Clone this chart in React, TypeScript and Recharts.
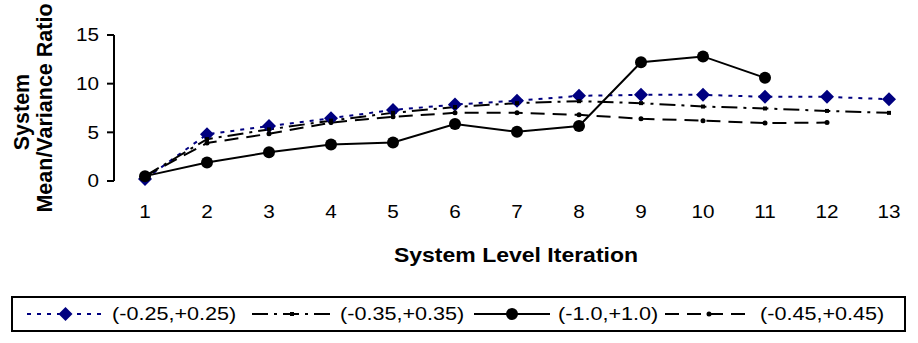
import React from "react";
import { LineChart, Line, XAxis, YAxis } from "recharts";

// iterations and series values
const iterations = [1, 2, 3, 4, 5, 6, 7, 8, 9, 10, 11, 12, 13];
const s025 = [0.2, 4.8, 5.65, 6.45, 7.3, 7.85, 8.25, 8.75, 8.85, 8.85, 8.65, 8.65, 8.4];
const s035 = [0.5, 4.3, 5.3, 6.2, 7.0, 7.6, 8.0, 8.2, 8.0, 7.65, 7.45, 7.2, 7.0];
const s100 = [0.5, 1.9, 2.95, 3.75, 3.95, 5.85, 5.05, 5.65, 12.2, 12.8, 10.6];
const s045 = [0.5, 3.9, 4.85, 6.0, 6.6, 7.0, 7.0, 6.8, 6.4, 6.2, 5.95, 6.0];
const yTicks = [0, 5, 10, 15];
const edgeTicks = [0.5, 1.5, 2.5, 3.5, 4.5, 5.5, 6.5, 7.5, 8.5, 9.5, 10.5, 11.5, 12.5, 13.5];

const data = iterations.map((it, i) => ({
  it,
  a: s025[i] ?? null,
  b: s035[i] ?? null,
  c: s100[i] ?? null,
  d: s045[i] ?? null,
}));

const FONT = "'Liberation Sans', Arial, sans-serif";
const NAVY = "#000080";

const SERIES = [
  { key: "a", name: "(-0.25,+0.25)", color: NAVY, dash: "4 6", marker: "diamond" },
  { key: "b", name: "(-0.35,+0.35)", color: "#000", dash: "16 6 3 6", marker: "square" },
  { key: "c", name: "(-1.0,+1.0)", color: "#000", dash: undefined, marker: "circle" },
  { key: "d", name: "(-0.45,+0.45)", color: "#000", dash: "14 8", marker: "dot" },
];

function Marker({ kind, cx, cy, color }: { kind: string; cx: number; cy: number; color: string }) {
  if (kind === "diamond")
    return <path d={`M${cx},${cy - 7}L${cx + 7},${cy}L${cx},${cy + 7}L${cx - 7},${cy}Z`} fill={color} />;
  if (kind === "square") return <rect x={cx - 2} y={cy - 2} width={4} height={4} fill={color} />;
  if (kind === "circle") return <circle cx={cx} cy={cy} r={6} fill={color} />;
  return <circle cx={cx} cy={cy} r={2.5} fill={color} />;
}

const XTick = ({ x, y, payload }: any) => (
  <g transform={`translate(${x},${y})`}>
    <text transform="scale(1.15,1)" textAnchor="middle" dy="0.71em" fontSize={18} fontFamily={FONT} fill="#000">
      {payload.value}
    </text>
  </g>
);

const YTick = ({ x, y, payload }: any) => (
  <g transform={`translate(${x},${y})`}>
    <text transform="scale(1.15,1)" textAnchor="end" dy="0.355em" fontSize={18} fontFamily={FONT} fill="#000">
      {payload.value}
    </text>
  </g>
);

function Legend() {
  const items = [
    { line: [27, 104], text: 112 },
    { line: [252, 332], text: 340 },
    { line: [474, 550], text: 558 },
    { line: [665, 753], text: 760 },
  ];
  const cy = 24;
  return (
    <svg width={918} height={50} style={{ position: "absolute", left: 0, top: 290 }}>
      <rect x={12} y={7} width={893} height={34} fill="#fff" stroke="#000" strokeWidth={2} />
      {SERIES.map((s, i) => {
        const it = items[i];
        const mid = (it.line[0] + it.line[1]) / 2;
        return (
          <g key={s.key}>
            <line x1={it.line[0]} x2={it.line[1]} y1={cy} y2={cy} stroke={s.color} strokeWidth={2} strokeDasharray={s.dash} />
            <Marker kind={s.marker} cx={mid} cy={cy} color={s.color} />
            <g transform={`translate(${it.text},${cy})`}>
              <text transform="scale(1.2,1)" dy="0.355em" fontSize={18} fontFamily={FONT} fill="#000">
                {s.name}
              </text>
            </g>
          </g>
        );
      })}
    </svg>
  );
}

export default function App() {
  return (
    <div style={{ position: "absolute", left: 0, top: 0, width: 918, height: 343, overflow: "hidden", background: "#fff" }}>
      <LineChart width={920} height={343} data={data} margin={{ top: 35, right: 0, left: 0, bottom: 122 }}>
        <XAxis
          xAxisId="edges"
          dataKey="it"
          type="number"
          domain={[0.5, 13.5]}
          ticks={edgeTicks}
          allowDataOverflow
          height={0}
          tick={false}
          tickSize={6}
          axisLine={{ stroke: "#000", strokeWidth: 2 }}
          tickLine={{ stroke: "#000", strokeWidth: 2 }}
        />
        <XAxis
          dataKey="it"
          type="number"
          domain={[0.5, 13.5]}
          ticks={iterations}
          allowDataOverflow
          height={40}
          axisLine={false}
          tickLine={false}
          tickSize={6}
          tickMargin={18}
          tick={<XTick />}
          label={{
            content: () => (
              <g transform="translate(516,262)">
                <text transform="scale(1.15,1)" textAnchor="middle" fontSize={20} fontWeight="bold" fontFamily={FONT} fill="#000">
                  System Level Iteration
                </text>
              </g>
            ),
          }}
        />
        <YAxis
          width={114}
          domain={[0, 15]}
          ticks={yTicks}
          interval={0}
          tickSize={7}
          tickMargin={8}
          tick={<YTick />}
          axisLine={{ stroke: "#000", strokeWidth: 2 }}
          tickLine={{ stroke: "#000", strokeWidth: 2 }}
          label={{
            content: () => (
              <g fontSize={21.5} fontWeight="bold" fontFamily={FONT} fill="#000">
                <text transform="translate(29,112) rotate(-90)" textAnchor="middle">System</text>
                <text transform="translate(52,108) rotate(-90)" textAnchor="middle">Mean/Variance Ratio</text>
              </g>
            ),
          }}
        />
        {SERIES.map((s) => (
          <Line
            key={s.key}
            dataKey={s.key}
            name={s.name}
            stroke={s.color}
            strokeWidth={2}
            strokeDasharray={s.dash}
            isAnimationActive={false}
            connectNulls={false}
            dot={(p: any) =>
              p.value == null || p.cy == null ? (
                <g key={p.key} />
              ) : (
                <Marker key={p.key} kind={s.marker} cx={p.cx} cy={p.cy} color={s.color} />
              )
            }
            activeDot={false}
          />
        ))}
      </LineChart>
      <Legend />
    </div>
  );
}
